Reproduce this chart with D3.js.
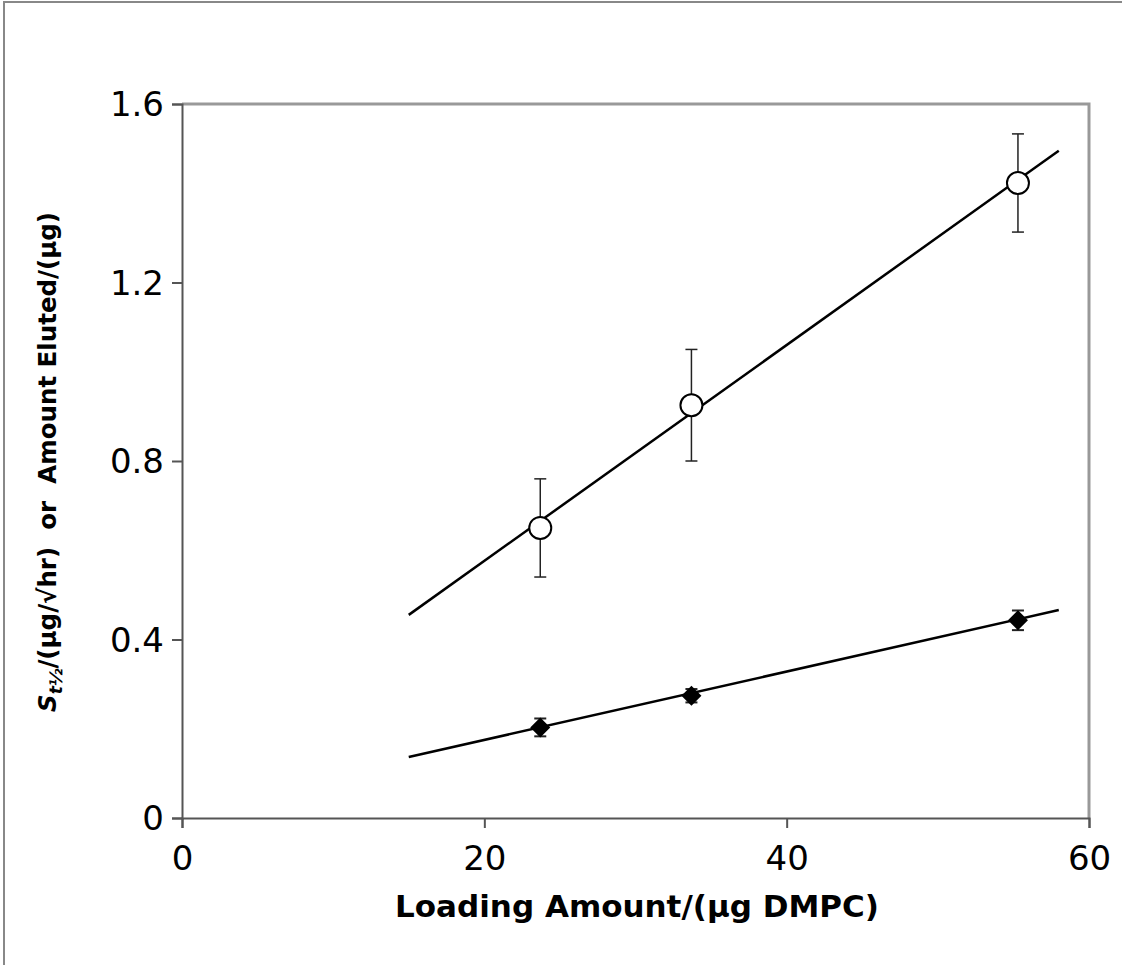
<!DOCTYPE html>
<html><head><meta charset="utf-8">
<script src="https://cdn.jsdelivr.net/npm/d3@7"></script>
<style>body{margin:0;background:#fff}svg{display:block}</style>
</head><body>
<script>
const loading = [23.7, 33.7, 55.3];
const openVals = [0.65, 0.925, 1.423];
const openErr = [0.11, 0.125, 0.11];
const filledVals = [0.203, 0.274, 0.443];
const filledErr = [0.02, 0.015, 0.022];
const openFit = {slope: 0.02419, intercept: 0.0923};
const filledFit = {slope: 0.00766, intercept: 0.0218};
const fitRange = [15, 58];
const xTicks = [0, 20, 40, 60];
const yTicks = [0, 0.4, 0.8, 1.2, 1.6];

const W = 1122, H = 965;
const svg = d3.select("body").append("svg").attr("width", W).attr("height", H);
svg.append("path").attr("d", `M4,${H} V2 H${W}`).attr("fill","none").attr("stroke","#888").attr("stroke-width",2);

const L = 182, R = 1089, T = 104, B = 818;
const x = d3.scaleLinear().domain([0, 60]).range([L, R]);
const y = d3.scaleLinear().domain([0, 1.6]).range([B, T]);
const font = "DejaVu Sans, Verdana, sans-serif";

// frame top/right
svg.append("path").attr("d", `M${L},${T} H${R} V${B}`).attr("fill","none").attr("stroke","#999").attr("stroke-width",3);

const xAxis = svg.append("g").attr("transform", `translate(0,${B})`)
  .call(d3.axisBottom(x).tickValues(xTicks).tickFormat(d3.format("d")).tickSize(10).tickPadding(18));
const yAxis = svg.append("g").attr("transform", `translate(${L},0)`)
  .call(d3.axisLeft(y).tickValues(yTicks).tickFormat(d => d === 0 ? "0" : d3.format(".1f")(d)).tickSize(10).tickPadding(8));
[xAxis, yAxis].forEach(g => {
  g.select(".domain").attr("stroke", "#555").attr("stroke-width", 2);
  g.selectAll(".tick line").attr("stroke", "#555").attr("stroke-width", 2);
  g.selectAll(".tick text").attr("font-family", font).attr("font-size", 34).attr("fill", "#000");
});
yAxis.selectAll(".tick text").attr("dy", "0.35em");

// fit lines
function fitLine(f) {
  return fitRange.map(v => [x(v), y(f.intercept + f.slope * v)]);
}
const line = d3.line();
svg.append("path").attr("d", line(fitLine(openFit))).attr("stroke","#000").attr("stroke-width",2.5).attr("fill","none");
svg.append("path").attr("d", line(fitLine(filledFit))).attr("stroke","#000").attr("stroke-width",2.5).attr("fill","none");

// error bars
function errBars(vals, errs, cap, sw) {
  const g = svg.append("g").attr("stroke", "#222").attr("stroke-width", sw);
  loading.forEach((xv, i) => {
    const cx = x(xv), y1 = y(vals[i] + errs[i]), y2 = y(vals[i] - errs[i]);
    g.append("line").attr("x1", cx).attr("x2", cx).attr("y1", y1).attr("y2", y2);
    g.append("line").attr("x1", cx - cap).attr("x2", cx + cap).attr("y1", y1).attr("y2", y1);
    g.append("line").attr("x1", cx - cap).attr("x2", cx + cap).attr("y1", y2).attr("y2", y2);
  });
}
errBars(openVals, openErr, 6, 1.5);
errBars(filledVals, filledErr, 6, 2);

// markers
svg.append("g").selectAll("circle").data(loading).join("circle")
  .attr("cx", d => x(d)).attr("cy", (d, i) => y(openVals[i])).attr("r", 11)
  .attr("fill", "#fff").attr("stroke", "#000").attr("stroke-width", 2);
svg.append("g").selectAll("path").data(loading).join("path")
  .attr("transform", (d, i) => `translate(${x(d)},${y(filledVals[i])})`)
  .attr("d", "M0,-10 L10,0 L0,10 L-10,0 Z").attr("fill", "#000");

// x title
svg.append("text").attr("x", 637).attr("y", 917).attr("text-anchor", "middle")
  .attr("font-family", font).attr("font-size", 31).attr("font-weight", "bold").text("Loading Amount/(µg DMPC)");

// y title
const yt = svg.append("text").attr("transform", "translate(56,462) rotate(-90)").attr("text-anchor", "middle")
  .attr("font-family", font).attr("font-size", 24.5).attr("font-weight", "bold");
yt.append("tspan").attr("font-style", "italic").text("S");
yt.append("tspan").attr("font-style", "italic").attr("font-size", 17).attr("dy", 6).text("t½");
yt.append("tspan").attr("dy", -6).text("/(µg/√hr)\u00a0\u00a0or\u00a0\u00a0Amount Eluted/(µg)");
</script>
</body></html>
